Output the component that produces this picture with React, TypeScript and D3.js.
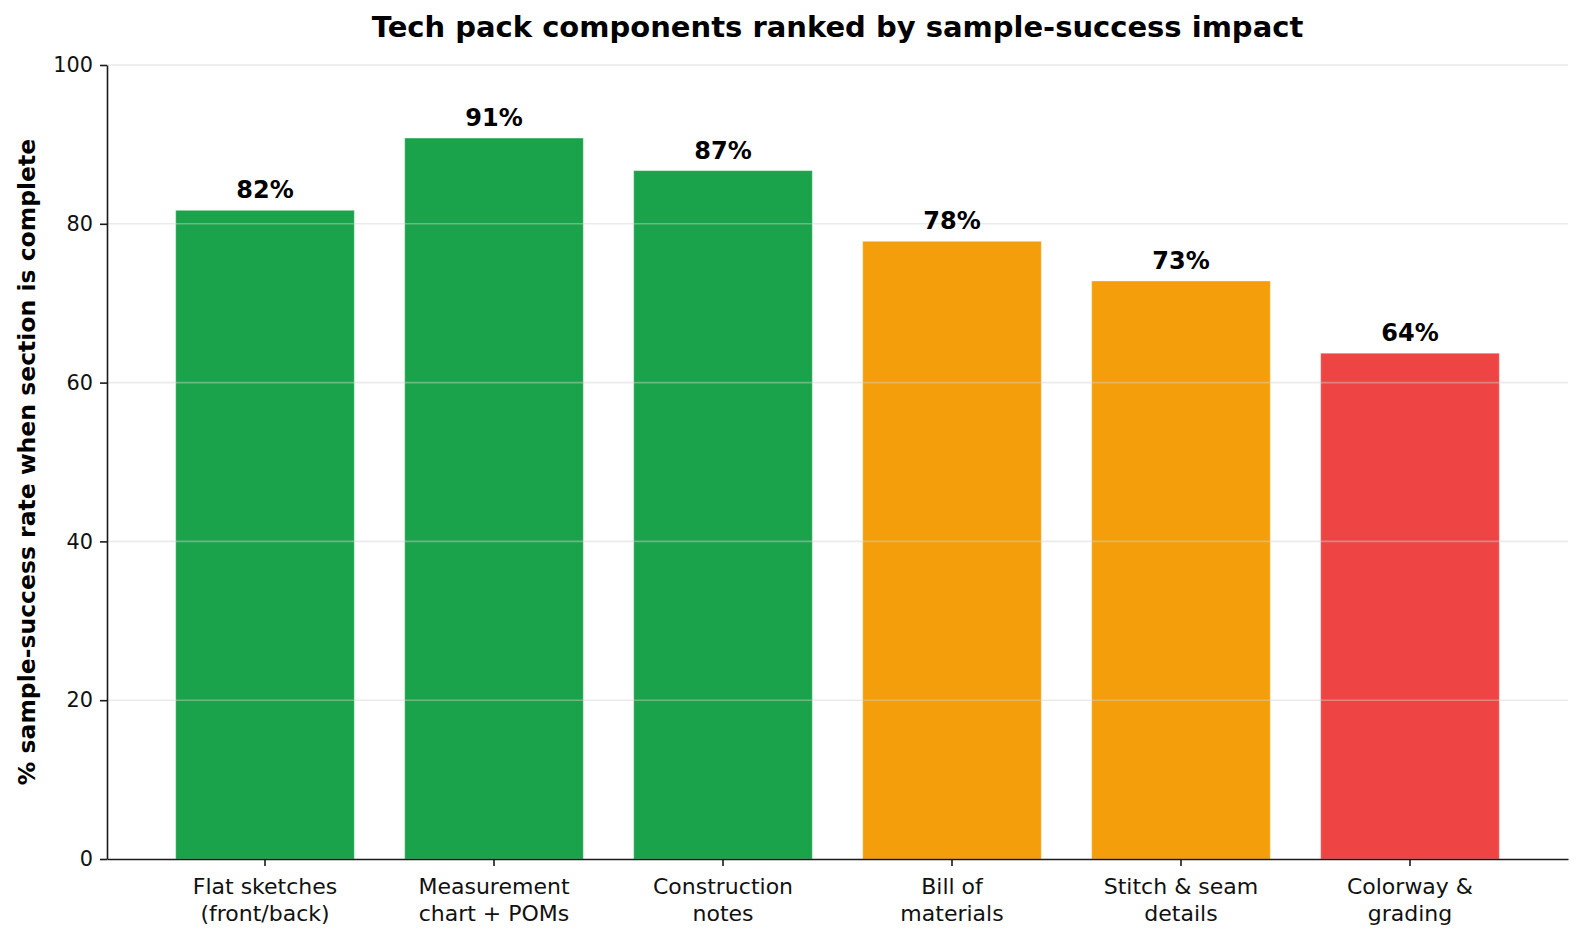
import { useEffect, useRef } from 'react'
import * as d3 from 'd3'

const categories = [
  'Flat sketches\n(front/back)',
  'Measurement\nchart + POMs',
  'Construction\nnotes',
  'Bill of\nmaterials',
  'Stitch & seam\ndetails',
  'Colorway &\ngrading',
]
const successRates = [81.7, 90.8, 86.7, 77.8, 72.8, 63.7]
const valueLabels = ['82%', '91%', '87%', '78%', '73%', '64%']
const barColors = ['#1aa34a', '#1aa34a', '#1aa34a', '#f59e0b', '#f59e0b', '#ef4444']
const yTicks = [0, 20, 40, 60, 80, 100]

const W = 1584
const H = 944
const FONT = '"DejaVu Sans", sans-serif'

export default function App() {
  const ref = useRef<SVGSVGElement | null>(null)
  useEffect(() => {
    if (!ref.current) return
    const svg = d3.select(ref.current)
    svg.selectAll('*').remove()
    const margin = { top: 65, right: 16, bottom: 85, left: 107 }

    const x = d3
      .scaleBand()
      .domain(categories)
      .range([margin.left, W - margin.right])
      .paddingInner(0.22)
      .paddingOuter(0.3)
    const y = d3
      .scaleLinear()
      .domain([0, 100])
      .range([H - margin.bottom, margin.top])

    // bars
    svg
      .append('g')
      .selectAll('rect')
      .data(categories)
      .enter()
      .append('rect')
      .attr('x', (d) => x(d)!)
      .attr('y', (_, i) => y(successRates[i]))
      .attr('width', x.bandwidth())
      .attr('height', (_, i) => y(0) - y(successRates[i]))
      .attr('fill', (_, i) => barColors[i])
      .attr('stroke', '#ffffff')
      .attr('stroke-opacity', 0.35)
      .attr('stroke-width', 1)

    // grid (over bars, like matplotlib default)
    svg
      .append('g')
      .selectAll('line')
      .data(yTicks.filter((t) => t > 0))
      .enter()
      .append('line')
      .attr('x1', margin.left)
      .attr('x2', W - margin.right)
      .attr('y1', (d) => y(d))
      .attr('y2', (d) => y(d))
      .attr('stroke', '#d0d0d0')
      .attr('stroke-opacity', 0.45)
      .attr('stroke-width', 1.6)

    // value labels
    svg
      .append('g')
      .selectAll('text')
      .data(categories)
      .enter()
      .append('text')
      .attr('x', (d) => x(d)! + x.bandwidth() / 2)
      .attr('y', (_, i) => y(successRates[i]) - 12)
      .attr('text-anchor', 'middle')
      .attr('font-family', FONT)
      .attr('font-weight', 'bold')
      .attr('font-size', 24)
      .attr('fill', '#000')
      .text((_, i) => valueLabels[i])

    // x axis
    const xAxis = svg
      .append('g')
      .attr('transform', `translate(0,${y(0)})`)
      .call(d3.axisBottom(x).tickSize(7).tickSizeOuter(0).tickPadding(8).tickFormat(() => ''))
    xAxis.select('.domain').attr('stroke', '#1a1a1a').attr('stroke-width', 1.6)
    xAxis.selectAll('.tick line').attr('stroke', '#1a1a1a').attr('stroke-width', 1.6)
    xAxis.selectAll('.tick text').remove()
    const xl = svg.append('g')
    categories.forEach((c) => {
      const lines = c.split('\n')
      const t = xl
        .append('text')
        .attr('x', x(c)! + x.bandwidth() / 2)
        .attr('y', 894)
        .attr('text-anchor', 'middle')
        .attr('font-family', FONT)
        .attr('font-size', 22)
        .attr('fill', '#111')
      lines.forEach((ln, j) => {
        t.append('tspan')
          .attr('x', x(c)! + x.bandwidth() / 2)
          .attr('dy', j === 0 ? 0 : 26.5)
          .text(ln)
      })
    })

    // y axis
    const yAxis = svg
      .append('g')
      .attr('transform', `translate(${margin.left},0)`)
      .call(d3.axisLeft(y).tickValues(yTicks).tickSize(7).tickSizeOuter(0).tickPadding(7))
    yAxis.select('.domain').attr('stroke', '#1a1a1a').attr('stroke-width', 1.6)
    yAxis.selectAll('.tick line').attr('stroke', '#1a1a1a').attr('stroke-width', 1.6)
    yAxis
      .selectAll('.tick text')
      .attr('font-family', FONT)
      .attr('font-size', 20.8)
      .attr('fill', '#111')

    // y label
    svg
      .append('text')
      .attr('transform', `translate(35,${(y(0) + y(100)) / 2}) rotate(-90)`)
      .attr('text-anchor', 'middle')
      .attr('font-family', FONT)
      .attr('font-weight', 'bold')
      .attr('font-size', 23.5)
      .attr('fill', '#000')
      .text('% sample-success rate when section is complete')

    // title
    svg
      .append('text')
      .attr('x', (margin.left + W - margin.right) / 2)
      .attr('y', 37)
      .attr('text-anchor', 'middle')
      .attr('font-family', FONT)
      .attr('font-weight', 'bold')
      .attr('font-size', 29)
      .attr('fill', '#000')
      .text('Tech pack components ranked by sample-success impact')
  }, [])
  return (
    <svg
      ref={ref}
      width={W}
      height={H}
      style={{ position: 'absolute', left: 0, top: 0, background: '#fff' }}
    />
  )
}
